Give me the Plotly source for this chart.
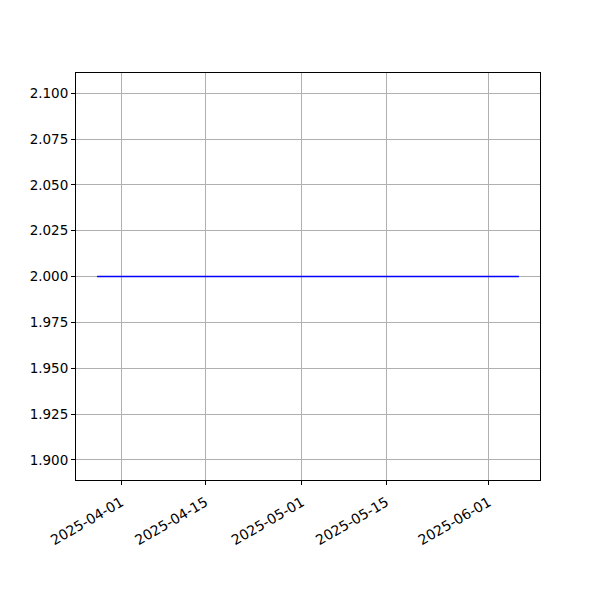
import plotly.graph_objects as go

dates = ["2025-03-28", "2025-06-06"]
values = [2.0, 2.0]
x_ticks = ["2025-04-01", "2025-04-15", "2025-05-01", "2025-05-15", "2025-06-01"]
y_ticks = [1.900, 1.925, 1.950, 1.975, 2.000, 2.025, 2.050, 2.075, 2.100]

fig = go.Figure()
fig.add_trace(go.Scatter(x=dates, y=values, mode="lines",
                         line=dict(color="#0000ff", width=1.5), showlegend=False))

axis_common = dict(showline=True, linecolor="black", linewidth=1, mirror=True,
                   ticks="outside", ticklen=4, tickcolor="black", tickwidth=1,
                   showgrid=True, gridcolor="#b0b0b0", gridwidth=1, zeroline=False)

fig.update_xaxes(range=["2025-03-24 12:00", "2025-06-09 12:00"],
                 tickvals=x_ticks, ticktext=x_ticks, tickangle=-30,
                 ticklabelstandoff=4,
                 tickfont=dict(family="DejaVu Sans", size=14, color="black"),
                 **axis_common)
fig.update_yaxes(range=[1.889, 2.111], tickvals=y_ticks,
                 ticktext=[f"{v:.3f}" for v in y_ticks],
                 tickfont=dict(family="DejaVu Sans", size=13.5, color="black"),
                 **axis_common)

fig.update_layout(width=600, height=600, plot_bgcolor="white", paper_bgcolor="white",
                  margin=dict(l=68, r=68, t=65, b=128, autoexpand=False))
fig.write_html("out.html")
